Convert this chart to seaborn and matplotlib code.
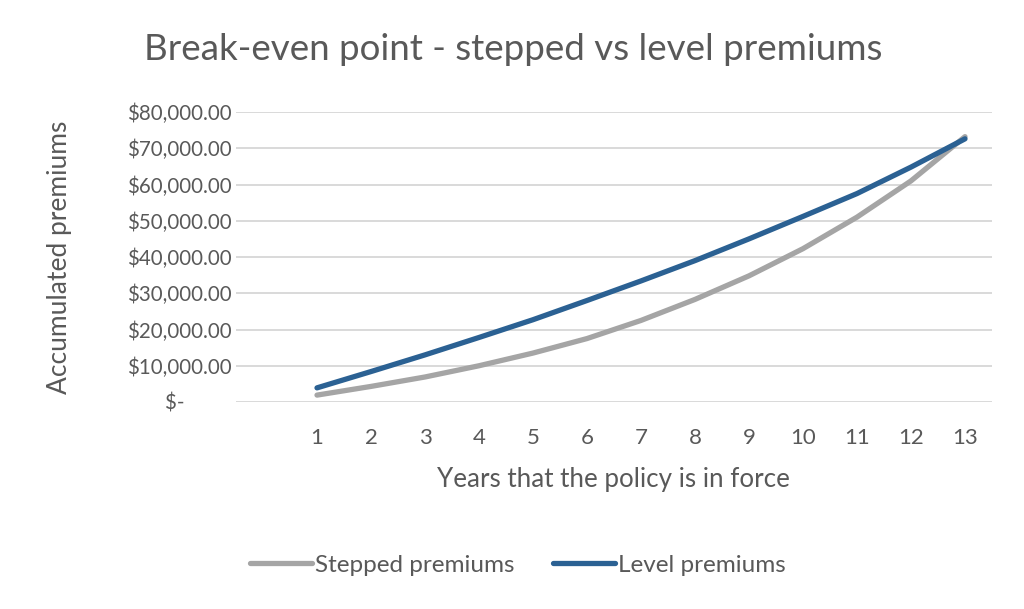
import matplotlib
matplotlib.use("Agg")
import matplotlib.pyplot as plt
import seaborn as sns
import pandas as pd
from matplotlib.ticker import FuncFormatter
from matplotlib.lines import Line2D

years = [1, 2, 3, 4, 5, 6, 7, 8, 9, 10, 11, 12, 13]
stepped = [1900, 4300, 6900, 10000, 13500, 17500, 22500, 28300, 34800, 42300, 51000, 61000, 73200]
level = [3900, 8400, 13000, 17800, 22700, 28000, 33400, 39000, 45000, 51200, 57500, 64800, 72600]
series_names = ["Stepped premiums", "Level premiums"]
colors = ["#A5A5A5", "#2B6193"]
yticks = [0, 10000, 20000, 30000, 40000, 50000, 60000, 70000, 80000]

df = pd.DataFrame({
    "year": years * 2,
    "value": stepped + level,
    "series": [series_names[0]] * len(years) + [series_names[1]] * len(years),
})

sns.set_theme(style="white")
FONT = ["Lato", "DejaVu Sans"]
plt.rcParams["font.family"] = FONT
TXT = "#595959"

fig = plt.figure(figsize=(10.24, 6.09), dpi=100)
ax = fig.add_axes([236 / 1024, 1 - 402 / 609, (992 - 236) / 1024, (402 - 112) / 609])

sns.lineplot(data=df, x="year", y="value", hue="series", palette=colors,
             hue_order=series_names, linewidth=3.8, ax=ax, legend=False,
             solid_capstyle="round", solid_joinstyle="round")

ax.set_xlim(-0.5, 13.5)
ax.set_ylim(0, 80000)
ax.set_xticks(years)
ax.set_xticklabels([str(y) for y in years])
ax.set_yticks(yticks)

def fmt(v, pos):
    if v == 0:
        return "$-" + "\u2007" * 4
    return "${:,.2f}".format(v)

ax.yaxis.set_major_formatter(FuncFormatter(fmt))
ax.grid(axis="y", color="#D9D9D9", linewidth=1.4)
ax.set_axisbelow(True)
for s in ["top", "right", "left", "bottom"]:
    ax.spines[s].set_visible(False)
ax.tick_params(axis="both", length=0, labelsize=14.8, labelcolor=TXT)
ax.tick_params(axis="x", labelsize=16)
ax.tick_params(axis="y", pad=3)
ax.tick_params(axis="x", pad=19)

ax.set_xlabel("Years that the policy is in force", fontsize=18.7, color=TXT)
ax.xaxis.label.set_va("center")
ax.xaxis.set_label_coords((613 - 236) / 756, -(480 - 402) / 290)
ax.set_ylabel("Accumulated premiums", fontsize=19, color=TXT)
ax.yaxis.label.set_va("center")
ax.yaxis.set_label_coords((60 - 236) / 756, 0.5)

fig.text(513 / 1024, 1 - 50 / 609, "Break-even point - stepped vs level premiums",
         ha="center", va="center", fontsize=26.5, color=TXT)

handles = [Line2D([0], [0], color=c, linewidth=3.8, solid_capstyle="round") for c in colors]
fig.legend(handles, series_names, loc="center", bbox_to_anchor=(0.506, 0.072), ncol=2,
           frameon=False, fontsize=17.5, labelcolor=TXT, handlelength=2.55,
           handletextpad=0.12, columnspacing=1.6)

fig.savefig("out.png", dpi=100)
